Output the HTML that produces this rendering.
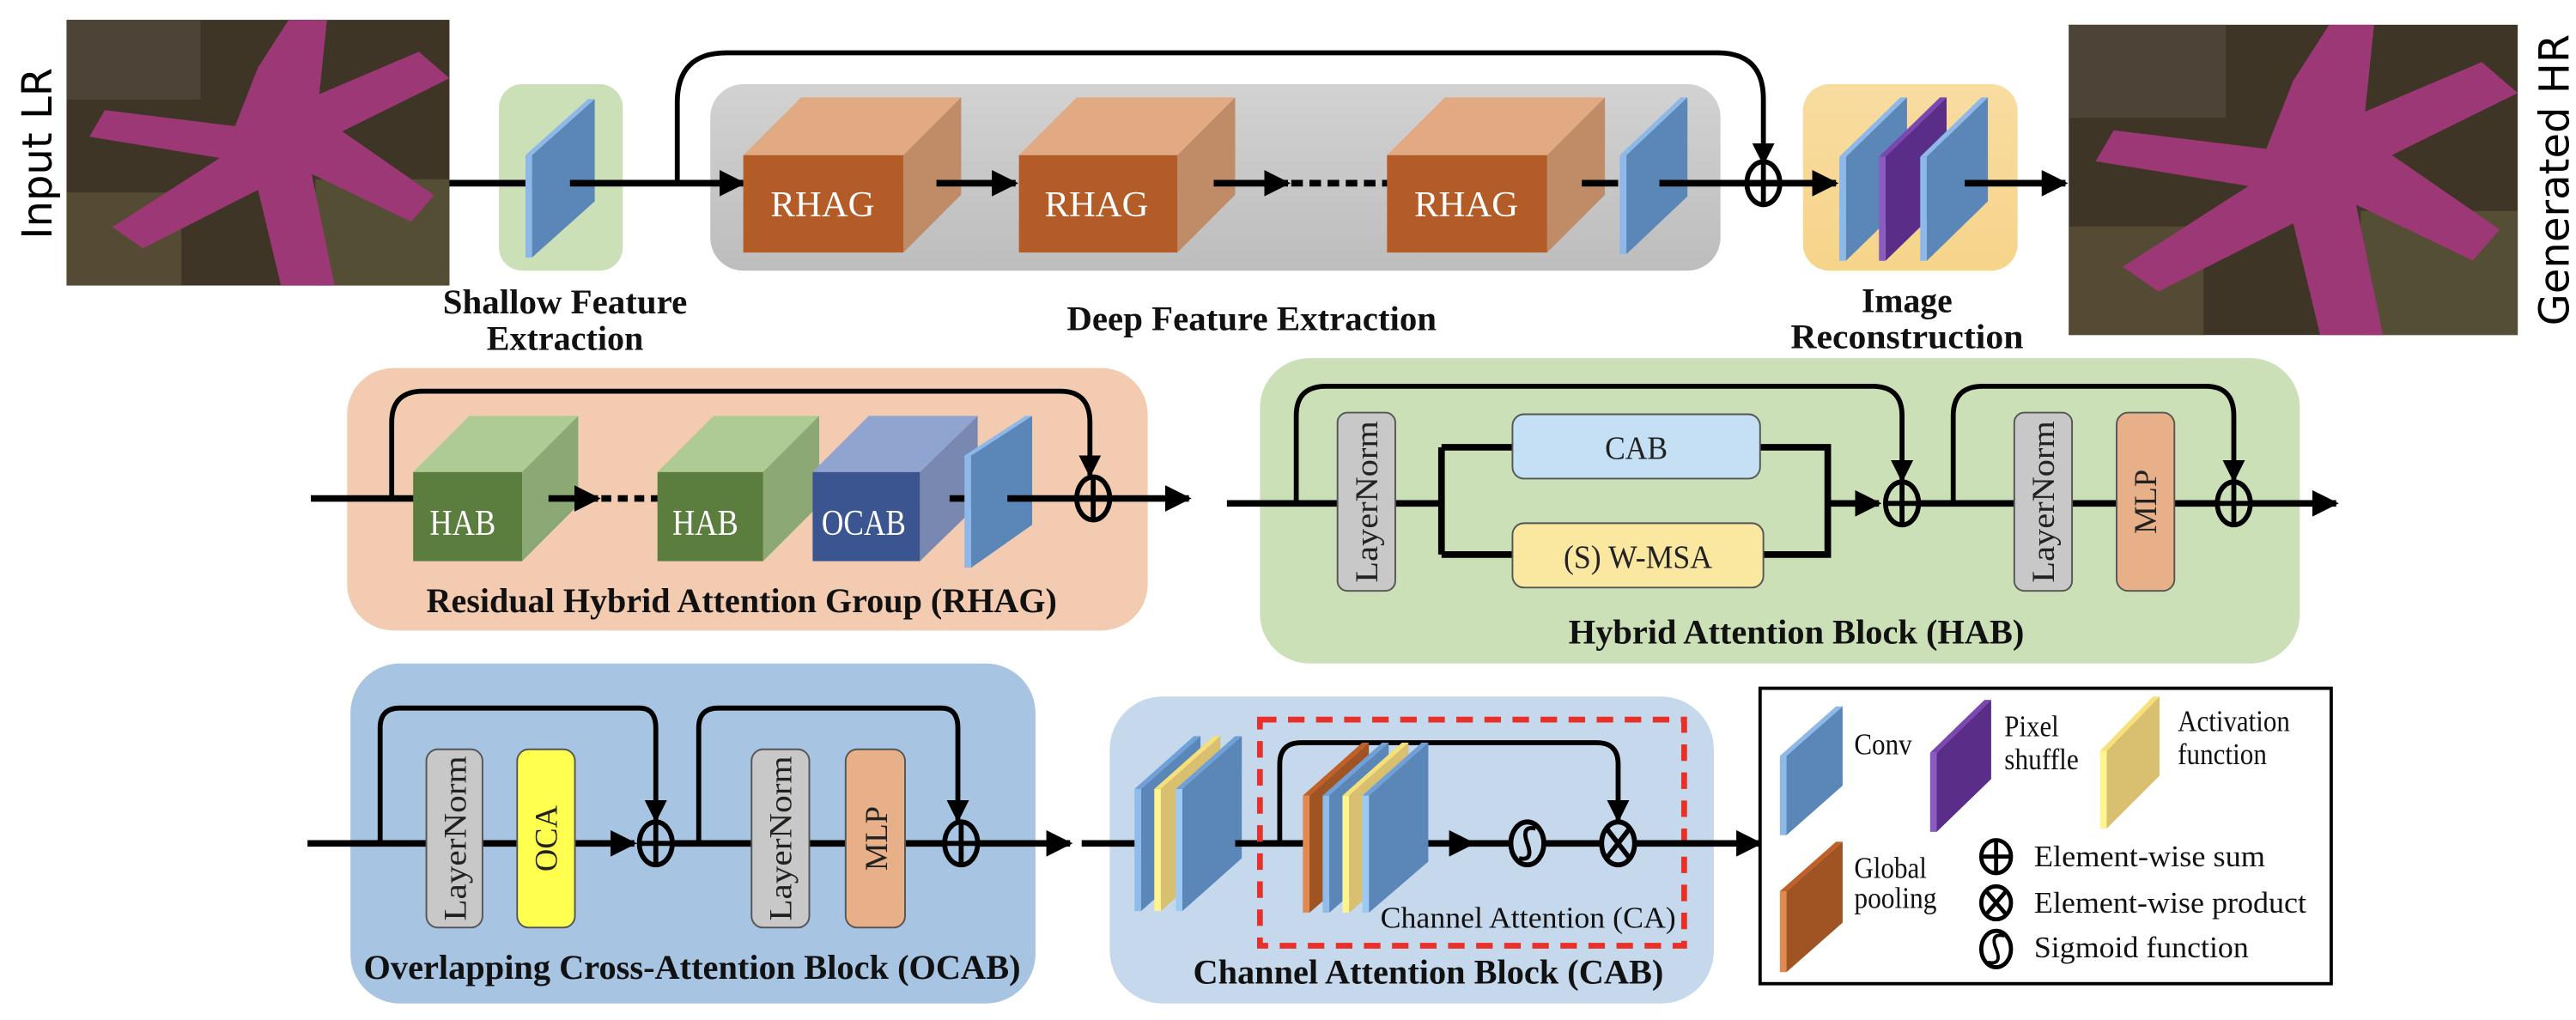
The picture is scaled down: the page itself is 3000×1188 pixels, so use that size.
<!DOCTYPE html>
<html><head><meta charset="utf-8"><style>
html,body{margin:0;padding:0;background:#fff;}
svg{display:block}
.b{font-family:"Liberation Serif",serif;font-weight:bold;font-size:21px;fill:#111;text-anchor:middle}
.s{font-family:"Liberation Serif",serif;font-size:18px;fill:#111}
.w{font-family:"Liberation Serif",serif;font-size:22px;fill:#fff;text-anchor:middle}
.v{font-family:"Liberation Serif",serif;font-size:19px;fill:#222;text-anchor:middle}
.ln{stroke:#000;stroke-width:4;fill:none}
.sk{stroke:#000;stroke-width:3;fill:none}
</style></head><body>
<svg width="3000" height="1188" viewBox="0 0 1560 618" xmlns="http://www.w3.org/2000/svg">
<defs>
<marker id="a" viewBox="0 0 10 10" refX="9" refY="5" markerWidth="4" markerHeight="4" orient="auto" markerUnits="strokeWidth"><path d="M0,0L10,5L0,10z" fill="#000"/></marker>
<marker id="a2" viewBox="0 0 10 10" refX="9" refY="5" markerWidth="4.5" markerHeight="4.5" orient="auto" markerUnits="strokeWidth"><path d="M0,0L10,5L0,10z" fill="#000"/></marker>
<linearGradient id="gg" x1="0" y1="0" x2="0" y2="1"><stop offset="0" stop-color="#d2d2d2"/><stop offset="1" stop-color="#bdbdbd"/></linearGradient>
<linearGradient id="yg" x1="0" y1="0" x2="0" y2="1"><stop offset="0" stop-color="#f8dca0"/><stop offset="1" stop-color="#f6d48a"/></linearGradient>
<g id="star">
<rect x="0" y="0" width="100" height="100" fill="#3e3526"/>
<rect x="0" y="0" width="35" height="30" fill="#564a3e" opacity=".7"/>
<rect x="65" y="60" width="35" height="40" fill="#5c5a3a" opacity=".7"/>
<rect x="0" y="65" width="30" height="35" fill="#66583e" opacity=".6"/>
<path d="M58,0 L68,0 L66,28 L92,12 L100,22 L72,42 L96,66 L90,76 L64,58 L70,100 L56,100 L50,64 L20,86 L12,78 L40,52 L6,44 L10,34 L44,40 L50,18 Z" fill="#9c3876"/>
</g>
</defs>
<rect width="1560" height="618" fill="#fff"/>

<!-- Row 1 -->
<text x="0" y="0" transform="translate(31,93) rotate(-90)" font-family="DejaVu Sans,sans-serif" font-size="25" text-anchor="middle" fill="#000">Input LR</text>
<use href="#star" transform="translate(40,12) scale(2.32,1.61)"/>
<text x="0" y="0" transform="translate(1556,109) rotate(-90)" font-family="DejaVu Sans,sans-serif" font-size="25" text-anchor="middle" fill="#000">Generated HR</text>
<use href="#star" transform="translate(1253,15) scale(2.72,1.88)"/>

<rect x="302" y="51" width="75" height="113" rx="14" fill="#cce0b8"/>
<rect x="430" y="51" width="612" height="113" rx="20" fill="url(#gg)"/>
<rect x="1092" y="51" width="130" height="113" rx="16" fill="url(#yg)"/>

<line class="ln" x1="272" y1="111" x2="322" y2="111"/>
<polygon points="322,94 360,60 360,122 322,156" fill="#5b86b8"/><polygon points="318,94 322,94 322,156 318,156" fill="#8db8e8"/><polygon points="318,94 356,60 360,60 322,94" fill="#8db8e8"/>
<line class="ln" x1="345" y1="111" x2="450" y2="111" marker-end="url(#a)"/>
<path class="sk" d="M410,111 V62 Q410,32 440,32 H1040 Q1068,32 1068,60 V99" marker-end="url(#a2)"/>

<!-- RHAG cubes -->
<polygon points="450,94 485,59 582,59 547,94" fill="#e2aa82"/><polygon points="547,94 582,59 582,118 547,153" fill="#c08c68"/><rect x="450" y="94" width="97" height="59" fill="#b35c28"/><text class="w" x="498" y="131" textLength="63" lengthAdjust="spacingAndGlyphs">RHAG</text>
<polygon points="617,94 652,59 748,59 713,94" fill="#e2aa82"/><polygon points="713,94 748,59 748,118 713,153" fill="#c08c68"/><rect x="617" y="94" width="96" height="59" fill="#b35c28"/><text class="w" x="664" y="131" textLength="63" lengthAdjust="spacingAndGlyphs">RHAG</text>
<polygon points="840,94 875,59 972,59 937,94" fill="#e2aa82"/><polygon points="937,94 972,59 972,118 937,153" fill="#c08c68"/><rect x="840" y="94" width="97" height="59" fill="#b35c28"/><text class="w" x="888" y="131" textLength="63" lengthAdjust="spacingAndGlyphs">RHAG</text>
<line class="ln" x1="567" y1="111" x2="615" y2="111" marker-end="url(#a)"/>
<line class="ln" x1="735" y1="111" x2="780" y2="111" marker-end="url(#a)"/>
<line stroke="#000" stroke-width="4" stroke-dasharray="7,4" x1="782" y1="111" x2="840" y2="111"/>
<line class="ln" x1="958" y1="111" x2="980" y2="111"/>
<polygon points="985,94 1022,59 1022,119 985,154" fill="#5b86b8"/><polygon points="981,94 985,94 985,154 981,154" fill="#8db8e8"/><polygon points="981,94 1018,59 1022,59 985,94" fill="#8db8e8"/>
<line class="ln" x1="1005" y1="111" x2="1112" y2="111" marker-end="url(#a)"/>
<ellipse cx="1068" cy="111" rx="10" ry="13" fill="none" stroke="#000" stroke-width="3"/><line x1="1058" y1="111" x2="1078" y2="111" stroke="#000" stroke-width="3"/><line x1="1068" y1="98" x2="1068" y2="124" stroke="#000" stroke-width="3"/>
<!-- reconstruction slabs -->
<polygon points="1118,95 1155,59 1155,122 1118,158" fill="#5b86b8"/><polygon points="1114,95 1118,95 1118,158 1114,158" fill="#8db8e8"/><polygon points="1114,95 1151,59 1155,59 1118,95" fill="#8db8e8"/>
<polygon points="1142,95 1179,59 1179,122 1142,158" fill="#5a2e88"/><polygon points="1138,95 1142,95 1142,158 1138,158" fill="#8a5cc0"/><polygon points="1138,95 1175,59 1179,59 1142,95" fill="#7a48b0"/>
<polygon points="1167,95 1204,59 1204,122 1167,158" fill="#5b86b8"/><polygon points="1163,95 1167,95 1167,158 1163,158" fill="#8db8e8"/><polygon points="1163,95 1200,59 1204,59 1167,95" fill="#8db8e8"/>
<line class="ln" x1="1190" y1="111" x2="1251" y2="111" marker-end="url(#a)"/>

<text class="b" x="342" y="190" textLength="148" lengthAdjust="spacingAndGlyphs">Shallow Feature</text>
<text class="b" x="342" y="212" textLength="95" lengthAdjust="spacingAndGlyphs">Extraction</text>
<text class="b" x="758" y="200" textLength="224" lengthAdjust="spacingAndGlyphs">Deep Feature Extraction</text>
<text class="b" x="1155" y="189" textLength="55" lengthAdjust="spacingAndGlyphs">Image</text>
<text class="b" x="1155" y="211" textLength="141" lengthAdjust="spacingAndGlyphs">Reconstruction</text>

<!-- Row 2: RHAG -->
<rect x="210" y="223" width="485" height="159" rx="28" fill="#f2cbb0"/>
<line class="ln" x1="188" y1="302" x2="252" y2="302"/>
<path class="sk" d="M237,302 V256 Q237,237 256,237 H642 Q660,237 660,256 V288" marker-end="url(#a2)"/>
<polygon points="250,286 284,252 350,252 316,286" fill="#aecb94"/><polygon points="316,286 350,252 350,306 316,340" fill="#8ca874"/><rect x="250" y="286" width="66" height="54" fill="#5b7e3e"/><text class="w" x="280" y="324" textLength="40" lengthAdjust="spacingAndGlyphs">HAB</text>
<polygon points="398,286 432,252 496,252 462,286" fill="#aecb94"/><polygon points="462,286 496,252 496,306 462,340" fill="#8ca874"/><rect x="398" y="286" width="64" height="54" fill="#5b7e3e"/><text class="w" x="427" y="324" textLength="40" lengthAdjust="spacingAndGlyphs">HAB</text>
<polygon points="492,286 526,252 592,252 557,286" fill="#90a4d0"/><polygon points="557,286 592,252 592,306 557,340" fill="#7888b0"/><rect x="492" y="286" width="65" height="54" fill="#3a5590"/><text class="w" x="523" y="324" textLength="51" lengthAdjust="spacingAndGlyphs">OCAB</text>
<line class="ln" x1="332" y1="302" x2="362" y2="302" marker-end="url(#a)"/>
<line stroke="#000" stroke-width="4" stroke-dasharray="6,4" x1="364" y1="302" x2="398" y2="302"/>
<line class="ln" x1="575" y1="302" x2="585" y2="302"/>
<polygon points="588,276 625,252 625,318 588,344" fill="#5b86b8"/><polygon points="584,276 588,276 588,344 584,344" fill="#8db8e8"/><polygon points="584,276 621,252 625,252 588,276" fill="#8db8e8"/>
<line class="ln" x1="610" y1="302" x2="720" y2="302" marker-end="url(#a)"/>
<ellipse cx="662" cy="302" rx="10" ry="13" fill="none" stroke="#000" stroke-width="3"/><line x1="652" y1="302" x2="672" y2="302" stroke="#000" stroke-width="3"/><line x1="662" y1="289" x2="662" y2="315" stroke="#000" stroke-width="3"/>
<text class="b" x="449" y="371" textLength="382" lengthAdjust="spacingAndGlyphs">Residual Hybrid Attention Group (RHAG)</text>

<!-- HAB -->
<rect x="763" y="217" width="630" height="185" rx="30" fill="#cce0b8"/>
<line class="ln" x1="743" y1="305" x2="873" y2="305"/>
<path class="ln" d="M873,271 V336 M873,271 H916 M873,336 H916 M1066,271 H1107 V336 H1068"/>
<line class="ln" x1="1107" y1="305" x2="1138" y2="305" marker-end="url(#a)"/>
<path class="sk" d="M785,305 V252 Q785,234 803,234 H1134 Q1152,234 1152,252 V291" marker-end="url(#a2)"/>
<rect x="810" y="250" width="35" height="108" rx="6" fill="#c8c8c8" stroke="#555" stroke-width="1"/>
<text class="v" x="0" y="0" transform="translate(834,304) rotate(-90)" textLength="98" lengthAdjust="spacingAndGlyphs">LayerNorm</text>
<rect x="916" y="251" width="150" height="39" rx="7" fill="#c5e0f5" stroke="#555" stroke-width="1"/>
<text x="991" y="278" font-family="Liberation Serif,serif" font-size="20" text-anchor="middle" fill="#222" textLength="38" lengthAdjust="spacingAndGlyphs">CAB</text>
<rect x="916" y="317" width="152" height="39" rx="7" fill="#fae7a0" stroke="#555" stroke-width="1"/>
<text x="992" y="344" font-family="Liberation Serif,serif" font-size="20" text-anchor="middle" fill="#222" textLength="90" lengthAdjust="spacingAndGlyphs">(S) W-MSA</text>
<line class="ln" x1="1162" y1="305" x2="1415" y2="305" marker-end="url(#a)"/>
<path class="sk" d="M1183,305 V252 Q1183,234 1201,234 H1336 Q1353,234 1353,252 V291" marker-end="url(#a2)"/>
<rect x="1220" y="250" width="35" height="108" rx="6" fill="#c8c8c8" stroke="#555" stroke-width="1"/>
<text class="v" x="0" y="0" transform="translate(1244,304) rotate(-90)" textLength="98" lengthAdjust="spacingAndGlyphs">LayerNorm</text>
<rect x="1282" y="250" width="35" height="108" rx="7" fill="#e8b088" stroke="#555" stroke-width="1"/>
<text class="v" x="0" y="0" transform="translate(1306,304) rotate(-90)">MLP</text>
<ellipse cx="1152" cy="305" rx="10" ry="13" fill="#cce0b8" stroke="#000" stroke-width="3"/><line x1="1142" y1="305" x2="1162" y2="305" stroke="#000" stroke-width="3"/><line x1="1152" y1="292" x2="1152" y2="318" stroke="#000" stroke-width="3"/>
<ellipse cx="1353" cy="305" rx="10" ry="13" fill="#cce0b8" stroke="#000" stroke-width="3"/><line x1="1343" y1="305" x2="1363" y2="305" stroke="#000" stroke-width="3"/><line x1="1353" y1="292" x2="1353" y2="318" stroke="#000" stroke-width="3"/>
<text class="b" x="1088" y="390" textLength="276" lengthAdjust="spacingAndGlyphs">Hybrid Attention Block (HAB)</text>

<!-- Row 3: OCAB -->
<rect x="212" y="402" width="415" height="206" rx="30" fill="#a7c4e2"/>
<line class="ln" x1="186" y1="511" x2="384" y2="511" marker-end="url(#a)"/>
<line class="ln" x1="407" y1="511" x2="572" y2="511"/>
<line class="ln" x1="592" y1="511" x2="648" y2="511" marker-end="url(#a)"/>
<path class="sk" d="M230,511 V441 Q230,429 242,429 H387 Q397,429 397,441 V497" marker-end="url(#a2)"/>
<path class="sk" d="M423,511 V441 Q423,429 435,429 H570 Q580,429 580,441 V497" marker-end="url(#a2)"/>
<rect x="258" y="454" width="34" height="108" rx="7" fill="#c8c8c8" stroke="#555" stroke-width="1"/>
<text class="v" x="0" y="0" transform="translate(282,508) rotate(-90)" textLength="100" lengthAdjust="spacingAndGlyphs">LayerNorm</text>
<rect x="313" y="454" width="35" height="108" rx="7" fill="#ffff50" stroke="#555" stroke-width="1"/>
<text class="v" x="0" y="0" transform="translate(337,508) rotate(-90)">OCA</text>
<rect x="455" y="454" width="35" height="108" rx="7" fill="#c8c8c8" stroke="#555" stroke-width="1"/>
<text class="v" x="0" y="0" transform="translate(479,508) rotate(-90)" textLength="100" lengthAdjust="spacingAndGlyphs">LayerNorm</text>
<rect x="512" y="454" width="36" height="108" rx="7" fill="#e8b088" stroke="#555" stroke-width="1"/>
<text class="v" x="0" y="0" transform="translate(537,508) rotate(-90)">MLP</text>
<ellipse cx="397" cy="511" rx="10" ry="13" fill="#a7c4e2" stroke="#000" stroke-width="3"/><line x1="387" y1="511" x2="407" y2="511" stroke="#000" stroke-width="3"/><line x1="397" y1="498" x2="397" y2="524" stroke="#000" stroke-width="3"/>
<ellipse cx="582" cy="511" rx="10" ry="13" fill="#a7c4e2" stroke="#000" stroke-width="3"/><line x1="572" y1="511" x2="592" y2="511" stroke="#000" stroke-width="3"/><line x1="582" y1="498" x2="582" y2="524" stroke="#000" stroke-width="3"/>
<text class="b" x="419" y="593" textLength="398" lengthAdjust="spacingAndGlyphs">Overlapping Cross-Attention Block (OCAB)</text>

<!-- CAB -->
<rect x="672" y="422" width="366" height="186" rx="32" fill="#c5d8ec"/>
<line class="ln" x1="655" y1="511" x2="690" y2="511"/>
<g>
<polygon points="691,478 727,446 727,520 691,552" fill="#5b86b8"/><polygon points="687,478 691,478 691,552 687,552" fill="#8fbce8"/><polygon points="687,478 723,446 727,446 691,478" fill="#6fa0d8"/>
<polygon points="703,478 739,446 739,520 703,552" fill="#d8c070"/><polygon points="699,478 703,478 703,552 699,552" fill="#fff590"/><polygon points="699,478 735,446 739,446 703,478" fill="#f5e07a"/>
<polygon points="716,478 752,446 752,520 716,552" fill="#5b86b8"/><polygon points="712,478 716,478 716,552 712,552" fill="#9ccaf5"/><polygon points="712,478 748,446 752,446 716,478" fill="#6fa0d8"/>
</g>
<line class="ln" x1="748" y1="511" x2="792" y2="511"/>
<rect x="763" y="436" width="257" height="137" fill="none" stroke="#e83028" stroke-width="3.5" stroke-dasharray="10,7"/>
<path class="sk" d="M775,511 V463 Q775,450 788,450 H967 Q980,450 980,463 V497" marker-end="url(#a2)"/>
<g>
<polygon points="793,482 829,450 829,522 793,553" fill="#a05424"/><polygon points="789,482 793,482 793,553 789,553" fill="#e08a50"/><polygon points="789,482 825,450 829,450 793,482" fill="#c06028"/>
<polygon points="805,482 841,450 841,522 805,553" fill="#5b86b8"/><polygon points="801,482 805,482 805,553 801,553" fill="#8fbce8"/><polygon points="801,482 837,450 841,450 805,482" fill="#6fa0d8"/>
<polygon points="817,482 853,450 853,522 817,553" fill="#d8c070"/><polygon points="813,482 817,482 817,553 813,553" fill="#fff590"/><polygon points="813,482 849,450 853,450 817,482" fill="#f5e07a"/>
<polygon points="829,482 865,450 865,522 829,553" fill="#5b86b8"/><polygon points="825,482 829,482 829,553 825,553" fill="#9ccaf5"/><polygon points="825,482 861,450 865,450 829,482" fill="#6fa0d8"/>
</g>
<line class="ln" x1="865" y1="511" x2="892" y2="511" marker-end="url(#a)"/>
<line class="ln" x1="892" y1="511" x2="1066" y2="511" marker-end="url(#a)"/>
<ellipse cx="925" cy="511" rx="10" ry="13" fill="#c5d8ec" stroke="#000" stroke-width="3"/><path d="M930,502 Q921,500 925,511 Q929,522 920,520" fill="none" stroke="#000" stroke-width="2.5"/>
<ellipse cx="980" cy="511" rx="10" ry="13" fill="#c5d8ec" stroke="#000" stroke-width="3"/><line x1="973" y1="502" x2="987" y2="520" stroke="#000" stroke-width="3"/><line x1="987" y1="502" x2="973" y2="520" stroke="#000" stroke-width="3"/>
<text x="836" y="562" font-family="Liberation Serif,serif" font-size="18" fill="#111" textLength="179" lengthAdjust="spacingAndGlyphs">Channel Attention (CA)</text>
<text class="b" x="865" y="596" textLength="285" lengthAdjust="spacingAndGlyphs">Channel Attention Block (CAB)</text>

<!-- Legend -->
<rect x="1066" y="417" width="346" height="179" fill="#fff" stroke="#000" stroke-width="2"/>
<polygon points="1082,458 1116,428 1116,476 1082,506" fill="#5b86b8"/><polygon points="1078,458 1082,458 1082,506 1078,506" fill="#8db8e8"/><polygon points="1078,458 1112,428 1116,428 1082,458" fill="#8db8e8"/>
<text class="s" x="1123" y="457" textLength="35" lengthAdjust="spacingAndGlyphs">Conv</text>
<polygon points="1173,456 1206,424 1206,472 1173,504" fill="#5a2e88"/><polygon points="1169,456 1173,456 1173,504 1169,504" fill="#8a5cc0"/><polygon points="1169,456 1202,424 1206,424 1173,456" fill="#7a48b0"/>
<text class="s" x="1214" y="446" textLength="33" lengthAdjust="spacingAndGlyphs">Pixel</text><text class="s" x="1214" y="466" textLength="45" lengthAdjust="spacingAndGlyphs">shuffle</text>
<polygon points="1276,455 1308,422 1308,470 1276,502" fill="#d8c070"/><polygon points="1272,455 1276,455 1276,502 1272,502" fill="#fff590"/><polygon points="1272,455 1304,422 1308,422 1276,455" fill="#f5e07a"/>
<text class="s" x="1319" y="443" textLength="68" lengthAdjust="spacingAndGlyphs">Activation</text><text class="s" x="1319" y="463" textLength="54" lengthAdjust="spacingAndGlyphs">function</text>
<polygon points="1082,540 1116,510 1116,559 1082,589" fill="#a05424"/><polygon points="1078,540 1082,540 1082,589 1078,589" fill="#e08a50"/><polygon points="1078,540 1112,510 1116,510 1082,540" fill="#c06028"/>
<text class="s" x="1123" y="532" textLength="44" lengthAdjust="spacingAndGlyphs">Global</text><text class="s" x="1123" y="550" textLength="50" lengthAdjust="spacingAndGlyphs">pooling</text>
<ellipse cx="1209" cy="519" rx="9" ry="10" fill="none" stroke="#000" stroke-width="2.5"/><line x1="1200" y1="519" x2="1218" y2="519" stroke="#000" stroke-width="2.5"/><line x1="1209" y1="509" x2="1209" y2="529" stroke="#000" stroke-width="2.5"/>
<text class="s" x="1232" y="525" textLength="140" lengthAdjust="spacingAndGlyphs">Element-wise sum</text>
<ellipse cx="1209" cy="547" rx="9" ry="10" fill="none" stroke="#000" stroke-width="2.5"/><line x1="1203" y1="540" x2="1215" y2="554" stroke="#000" stroke-width="2.5"/><line x1="1215" y1="540" x2="1203" y2="554" stroke="#000" stroke-width="2.5"/>
<text class="s" x="1232" y="553" textLength="165" lengthAdjust="spacingAndGlyphs">Element-wise product</text>
<ellipse cx="1209" cy="575" rx="9" ry="11" fill="none" stroke="#000" stroke-width="2.5"/><path d="M1214,567 Q1205,565 1209,575 Q1213,585 1204,583" fill="none" stroke="#000" stroke-width="2"/>
<text class="s" x="1232" y="580" textLength="130" lengthAdjust="spacingAndGlyphs">Sigmoid function</text>
</svg>
</body></html>
